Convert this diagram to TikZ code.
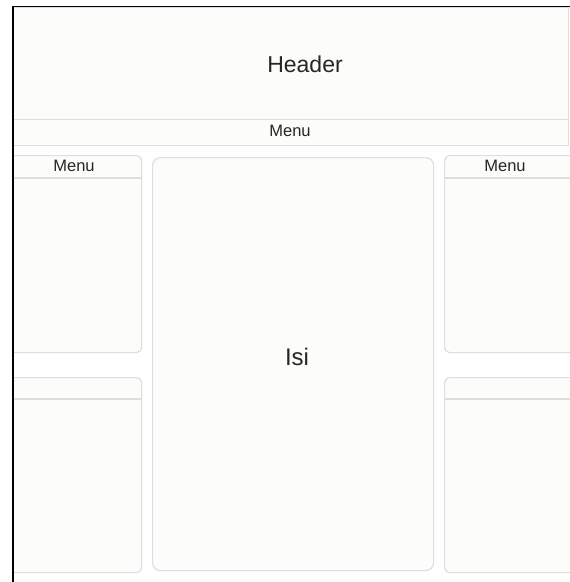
\documentclass[tikz,border=0pt]{standalone}
\usepackage{fontspec}
\setmainfont{Liberation Sans}
\definecolor{linegray}{HTML}{DEDEDC}
\definecolor{panelfill}{HTML}{FCFCFA}
\definecolor{txt}{HTML}{262626}
\begin{document}
\begin{tikzpicture}[x=1pt,y=-1pt,
  panel/.style={draw=linegray, fill=panelfill, line width=1.2pt, inner sep=0pt, anchor=north west},
  sidebox/.style={panel, rounded corners=5pt},
  mainbox/.style={panel, rounded corners=8pt},
  lbl/.style={text=txt, inner sep=0pt}]
\useasboundingbox (0,0) rectangle (570,582);
\fill[white] (0,0) rectangle (570,582);
\begin{scope}
\clip (13,6.5) rectangle (570,582);
\node[panel, minimum width=556pt, minimum height=112pt] (header) at (12,7) {};
\node[panel, minimum width=556pt, minimum height=26pt] (menubar) at (12,119) {};
\node[sidebox, minimum width=136pt, minimum height=197pt] (lt) at (5,155) {};
\node[sidebox, minimum width=136pt, minimum height=195pt] (lb) at (5,377) {};
\node[mainbox, minimum width=281pt, minimum height=413pt] (main) at (152,157) {};
\node[sidebox, minimum width=140pt, minimum height=197pt] (rt) at (444,155) {};
\node[sidebox, minimum width=140pt, minimum height=195pt] (rb) at (444,377) {};
\draw[linegray, line width=1.2pt] (lt.west |- 0,178) -- (lt.east |- 0,178);
\draw[linegray, line width=1.2pt] (lb.west |- 0,399) -- (lb.east |- 0,399);
\draw[linegray, line width=1.2pt] (rt.west |- 0,178) -- (rt.east |- 0,178);
\draw[linegray, line width=1.2pt] (rb.west |- 0,399) -- (rb.east |- 0,399);
\end{scope}
\node[lbl, font=\fontsize{23}{26}\selectfont] (htext) at (305,64) {Header};
\node[lbl, font=\fontsize{16.5}{19}\selectfont] (mtext) at (290,131) {Menu};
\node[lbl, font=\fontsize{16.5}{19}\selectfont] (ltext) at (74,166) {Menu};
\node[lbl, font=\fontsize{16.5}{19}\selectfont] (rtext) at (505,166) {Menu};
\node[lbl, font=\fontsize{24}{28}\selectfont] (itext) at (297,357) {Isi};
\draw[black, line width=1.5pt] (13,582) -- (13,6.5) -- (570,6.5);
\end{tikzpicture}
\end{document}
